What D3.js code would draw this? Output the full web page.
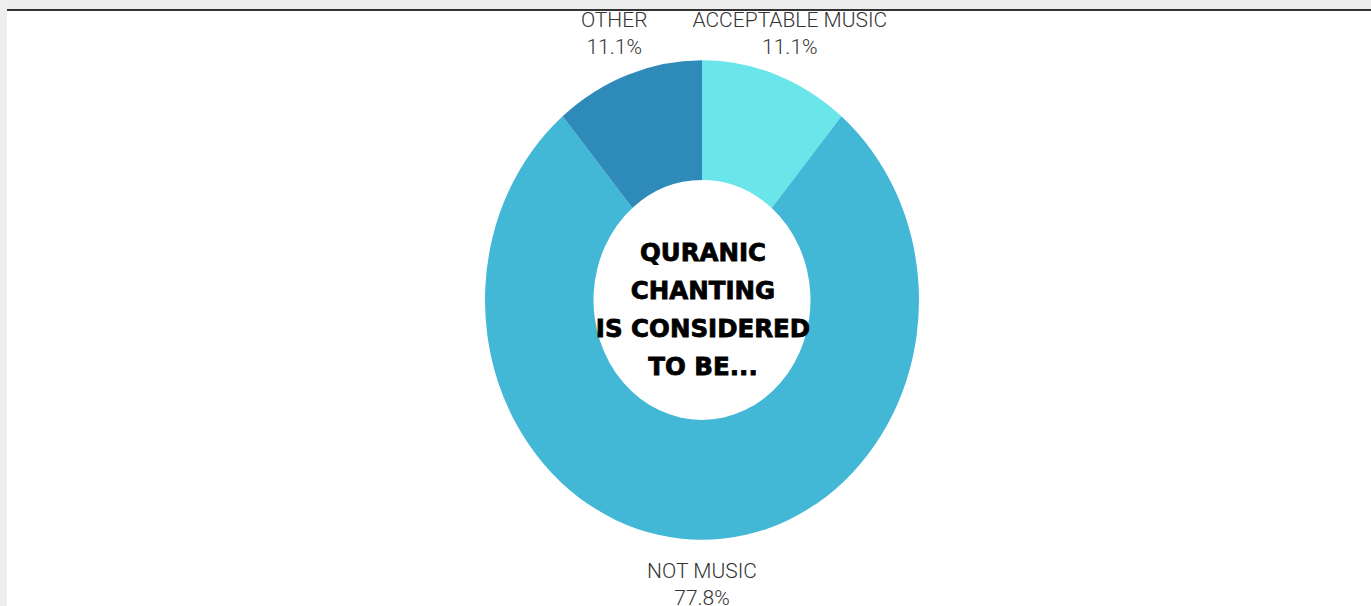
<!DOCTYPE html>
<html>
<head>
<meta charset="utf-8">
<script src="https://cdn.jsdelivr.net/npm/d3@7"></script>
<style>
  html, body { margin: 0; padding: 0; background: #fff; }
  svg { display: block; }
</style>
</head>
<body>
<div id="wrapper"></div>
<script>
  // data
  const categories = ["ACCEPTABLE MUSIC", "NOT MUSIC", "OTHER"];
  const shares = [11.1, 77.8, 11.1];
  const sliceColors = ["#6ae5e9", "#42b7d6", "#2e8bb9"];
  const centerLines = ["QURANIC", "CHANTING", "IS CONSIDERED", "TO BE..."];

  const dimensions = { width: 1371, height: 606 };

  const dataset = categories.map((c, i) => ({ name: c, value: shares[i] }));

  const svg = d3.select("#wrapper").append("svg")
    .attr("width", dimensions.width)
    .attr("height", dimensions.height);

  // grey page frame (top and left strips + dark rule)
  svg.append("rect").attr("x", 0).attr("y", 0)
    .attr("width", dimensions.width).attr("height", 9).attr("fill", "#ededed");
  svg.append("rect").attr("x", 0).attr("y", 0)
    .attr("width", 7).attr("height", dimensions.height).attr("fill", "#eeeeee");
  svg.append("rect").attr("x", 7).attr("y", 9)
    .attr("width", dimensions.width - 7).attr("height", 2).attr("fill", "#333");

  const cx = 702, cy = 300, stretch = 1.105;
  const outer = 217, inner = 108.5, labelR = 257;

  const pie = d3.pie().sort(null).value(d => d.value);
  const arc = d3.arc().innerRadius(inner).outerRadius(outer);
  const labelArc = d3.arc().innerRadius(labelR).outerRadius(labelR);
  const color = d3.scaleOrdinal().domain(categories).range(sliceColors);

  const arcs = pie(dataset);

  const donut = svg.append("g")
    .attr("transform", `translate(${cx},${cy}) scale(1,${stretch})`);

  donut.selectAll("path")
    .data(arcs)
    .join("path")
    .attr("d", arc)
    .attr("fill", d => color(d.data.name));

  // slice labels
  const labels = svg.append("g")
    .attr("transform", `translate(${cx},${cy})`)
    .selectAll("text")
    .data(arcs)
    .join("text")
    .attr("text-anchor", "middle")
    .attr("font-family", "Roboto, 'Open Sans', sans-serif")
    .attr("font-weight", 300)
    .attr("font-size", 21)
    .attr("fill", "#333");

  labels.each(function(d) {
    const [x, y] = labelArc.centroid(d);
    const t = d3.select(this);
    t.append("tspan").attr("x", x).attr("y", y * stretch - 6).text(d.data.name);
    t.append("tspan").attr("x", x).attr("y", y * stretch + 21).text(d.data.value.toFixed(1) + "%");
  });

  // centre title
  svg.append("text")
    .attr("text-anchor", "middle")
    .attr("font-family", "'DejaVu Sans', sans-serif")
    .attr("font-weight", 700)
    .attr("font-size", 24.5)
    .attr("fill", "#000")
    .attr("stroke", "#000")
    .attr("stroke-width", 0.8)
    .selectAll("tspan")
    .data(centerLines)
    .join("tspan")
    .attr("x", cx + 1)
    .attr("y", (d, i) => 261 + i * 38)
    .text(d => d);
</script>
</body>
</html>
